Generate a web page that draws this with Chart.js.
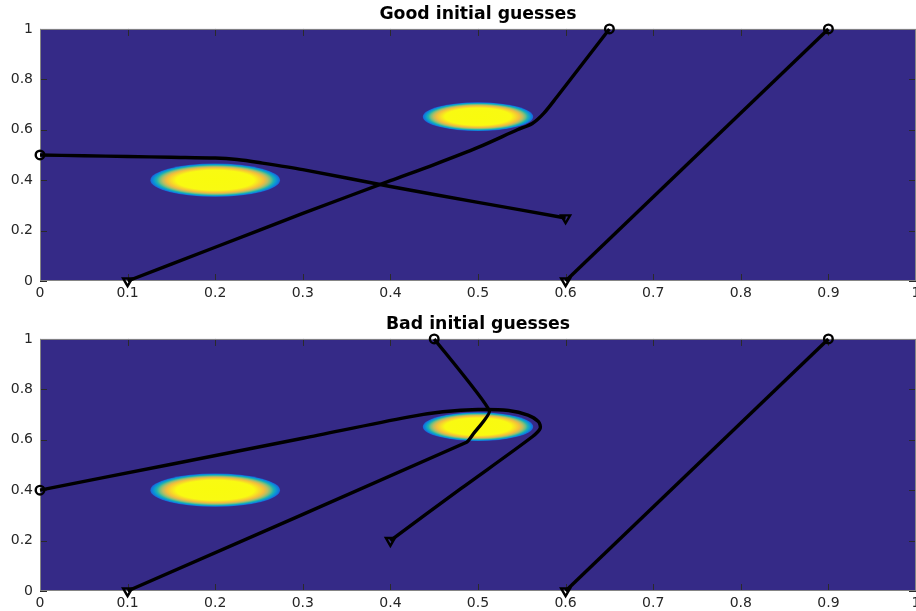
<!DOCTYPE html>
<html><head><meta charset="utf-8">
<script src="https://cdn.jsdelivr.net/npm/chart.js@4.4.1/dist/chart.umd.min.js"></script>
<style>
html,body{margin:0;padding:0;background:#fff;overflow:hidden;width:916px;height:611px;}
.wrap{position:absolute;left:0;width:916px;overflow:hidden;}
#w1{top:0;height:306px;}
#w2{top:310px;height:301px;}
canvas{display:block;}
</style></head><body>
<div class="wrap" id="w1"><canvas id="c1" width="916" height="306"></canvas></div>
<div class="wrap" id="w2"><canvas id="c2" width="916" height="301"></canvas></div>
<script>
// ---- data ----
const xTickVals = [0, 0.1, 0.2, 0.3, 0.4, 0.5, 0.6, 0.7, 0.8, 0.9, 1];
const yTickVals = [0, 0.2, 0.4, 0.6, 0.8, 1];
const titles = ["Good initial guesses", "Bad initial guesses"];

// bright spots of the background field (centre and half-extent, data units)
const blobCx = [0.2, 0.5];
const blobCy = [0.4, 0.652];
const blobRx = [0.074, 0.063];
const blobRy = [0.066, 0.057];

// good initial guesses
const goodAx = [0, 0.05, 0.1, 0.15, 0.2, 0.225, 0.25, 0.3, 0.4, 0.5, 0.6];
const goodAy = [0.5, 0.497, 0.494, 0.491, 0.488, 0.482, 0.47, 0.442, 0.375, 0.312, 0.25];
const goodBx = [0.65, 0.62, 0.59, 0.575, 0.562, 0.545, 0.5, 0.45, 0.4, 0.3, 0.2, 0.1];
const goodBy = [1.0, 0.865, 0.73, 0.665, 0.625, 0.6, 0.53, 0.462, 0.398, 0.268, 0.134, 0];
const goodCx = [0.9, 0.6];
const goodCy = [1.0, 0];

// bad initial guesses
const badDx = [0, 0.15, 0.3, 0.42, 0.46, 0.5, 0.535, 0.557, 0.569, 0.571, 0.562, 0.48, 0.4];
const badDy = [0.4, 0.503, 0.606, 0.69, 0.711, 0.72, 0.716, 0.698, 0.672, 0.645, 0.612, 0.405, 0.2];
const badEx = [0.45, 0.513, 0.495, 0.487, 0.1];
const badEy = [1.0, 0.715, 0.625, 0.59, 0];
const badFx = [0.9, 0.6];
const badFy = [1.0, 0];

// ---- styling ----
const BG = '#352a87';
const FONT = 'DejaVu Sans';
const gradStops = [
  [0.00, 'rgb(249,251,14)'],
  [0.60, 'rgb(249,250,18)'],
  [0.68, 'rgb(247,218,40)'],
  [0.75, 'rgb(242,190,60)'],
  [0.81, 'rgb(185,189,98)'],
  [0.86, 'rgb(110,190,130)'],
  [0.90, 'rgb(35,178,175)'],
  [0.94, 'rgb(10,155,210)'],
  [0.98, 'rgb(18,118,220)'],
  [1.00, 'rgb(28,95,215)']
];

function pts(xs, ys) { return xs.map((v, i) => ({x: v, y: ys[i]})); }

function pathSet(xs, ys, tension) {
  const n = xs.length;
  return {
    data: pts(xs, ys),
    showLine: true,
    borderColor: '#000',
    borderWidth: 3.4,
    tension: tension,
    fill: false,
    clip: false,
    pointStyle: c => c.dataIndex === 0 ? 'circle' : 'triangle',
    rotation: c => c.dataIndex === n - 1 ? 180 : 0,
    pointRadius: c => c.dataIndex === 0 ? 4.3 : (c.dataIndex === n - 1 ? 5.2 : 0),
    pointHoverRadius: 0,
    pointBorderWidth: 2.4,
    pointBorderColor: '#000',
    pointBackgroundColor: 'rgba(0,0,0,0)'
  };
}

const framePlugin = {
  id: 'frame',
  beforeDatasetsDraw(chart) {
    const {ctx, chartArea: a, scales: {x, y}} = chart;
    const w = a.right - a.left, h = a.bottom - a.top;
    ctx.save();
    ctx.fillStyle = BG;
    ctx.fillRect(a.left, a.top, w, h);
    ctx.beginPath(); ctx.rect(a.left, a.top, w, h); ctx.clip();
    for (let i = 0; i < blobCx.length; i++) {
      const px = x.getPixelForValue(blobCx[i]);
      const py = y.getPixelForValue(blobCy[i]);
      const rx = x.getPixelForValue(blobCx[i] + blobRx[i]) - px;
      const ry = py - y.getPixelForValue(blobCy[i] + blobRy[i]);
      ctx.save();
      ctx.translate(px, py);
      ctx.scale(rx, ry);
      const g = ctx.createRadialGradient(0, 0, 0, 0, 0, 1);
      gradStops.forEach(s => g.addColorStop(s[0], s[1]));
      ctx.fillStyle = g;
      ctx.beginPath(); ctx.arc(0, 0, 1, 0, Math.PI * 2); ctx.fill();
      ctx.restore();
    }
    ctx.restore();
    // inward ticks and box
    ctx.save();
    const TL = 7;
    ctx.strokeStyle = '#2a2a2a';
    ctx.lineWidth = 1;
    ctx.beginPath();
    xTickVals.forEach(v => {
      const p = Math.round(x.getPixelForValue(v)) + 0.5;
      ctx.moveTo(p, a.bottom); ctx.lineTo(p, a.bottom - TL);
      ctx.moveTo(p, a.top); ctx.lineTo(p, a.top + TL);
    });
    yTickVals.forEach(v => {
      const p = Math.round(y.getPixelForValue(v)) + 0.5;
      ctx.moveTo(a.left, p); ctx.lineTo(a.left + TL, p);
      ctx.moveTo(a.right, p); ctx.lineTo(a.right - TL, p);
    });
    ctx.stroke();
    ctx.strokeStyle = '#858585';
    ctx.strokeRect(a.left + 0.5, a.top + 0.5, w - 1, h - 1);
    ctx.restore();
  }
};

const noPad = () => ({left: 0, top: 0, right: 0, bottom: 0});

function makeChart(id, title, sets, axisH) {
  return new Chart(document.getElementById(id), {
    type: 'scatter',
    data: {datasets: sets},
    plugins: [framePlugin],
    options: {
      responsive: false,
      animation: false,
      events: [],
      layout: {padding: 0, autoPadding: false},
      plugins: {
        legend: {display: false},
        tooltip: {enabled: false},
        title: {
          display: true, text: title, color: '#000', fullSize: false,
          font: {family: FONT, size: 17.3, weight: 'bold', lineHeight: 1.2},
          padding: {top: 4, bottom: 4.2}
        }
      },
      scales: {
        x: {
          type: 'linear', position: 'bottom', min: 0, max: 1,
          grid: {display: false, drawTicks: false}, border: {display: false},
          afterBuildTicks: s => { s.ticks = xTickVals.map(v => ({value: v})); },
          afterFit: s => { s.height = axisH; s.paddingLeft = 0; s.paddingRight = 0; s.getPadding = noPad; },
          ticks: {color: '#262626', font: {family: FONT, size: 14}, padding: 4, maxRotation: 0, autoSkip: false,
                  callback: v => String(v)}
        },
        y: {
          type: 'linear', position: 'left', min: 0, max: 1,
          grid: {display: false, drawTicks: false}, border: {display: false},
          afterBuildTicks: s => { s.ticks = yTickVals.map(v => ({value: v})); },
          afterFit: s => { s.width = 40; s.paddingTop = 0; s.paddingBottom = 0; s.getPadding = noPad; },
          ticks: {color: '#262626', font: {family: FONT, size: 14}, padding: 7, autoSkip: false,
                  callback: v => String(v)}
        }
      }
    }
  });
}

makeChart('c1', titles[0], [
  pathSet(goodAx, goodAy, 0.3),
  pathSet(goodBx, goodBy, 0.3),
  pathSet(goodCx, goodCy, 0)
], 25);

makeChart('c2', titles[1], [
  pathSet(badDx, badDy, 0.3),
  pathSet(badEx, badEy, 0.15),
  pathSet(badFx, badFy, 0)
], 20);
</script></body></html>
